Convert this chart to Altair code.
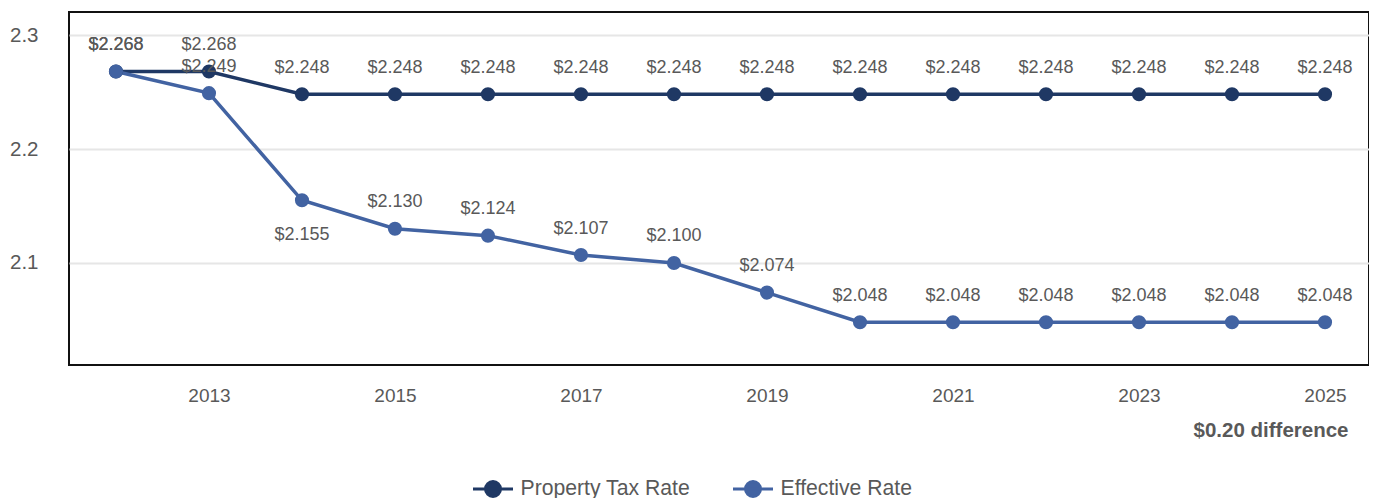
import altair as alt
import pandas as pd

years = list(range(2012, 2026))
property_tax_rate = [2.268, 2.268, 2.248, 2.248, 2.248, 2.248, 2.248, 2.248,
                     2.248, 2.248, 2.248, 2.248, 2.248, 2.248]
effective_rate = [2.268, 2.249, 2.155, 2.130, 2.124, 2.107, 2.100, 2.074,
                  2.048, 2.048, 2.048, 2.048, 2.048, 2.048]
series_names = ["Property Tax Rate", "Effective Rate"]
series_colors = ["#1F3864", "#4263A2"]
x_tick_values = [2013, 2015, 2017, 2019, 2021, 2023, 2025]
y_tick_values = [2.1, 2.2, 2.3]
note_text = "$0.20 difference"

rows = []
for name, vals in zip(series_names, [property_tax_rate, effective_rate]):
    for yr, v in zip(years, vals):
        rows.append({"year": yr, "value": v, "series": name})
df = pd.DataFrame(rows)

FONT = "Liberation Sans"
GRAY = "#595959"

x = alt.X(
    "year:Q",
    scale=alt.Scale(domain=[2011.495, 2025.473], nice=False, zero=False),
    axis=alt.Axis(
        values=x_tick_values, format="d", title=note_text, grid=False,
        ticks=False, domain=False, labelFontSize=19, labelColor=GRAY,
        labelFont=FONT, labelPadding=21,
        titleFont=FONT, titleFontSize=20.5, titleFontWeight="bold",
        titleColor=GRAY, titleX=1279, titleY=71, titleAlign="right",
        titleBaseline="alphabetic",
    ),
)
y = alt.Y(
    "value:Q",
    scale=alt.Scale(domain=[2.0105, 2.3202], nice=False, zero=False),
    axis=alt.Axis(
        values=y_tick_values, format=".1f", title=None, grid=True,
        gridColor="#E6E6E6", gridWidth=2, ticks=False, domain=False,
        labelFontSize=20.5, labelColor=GRAY, labelFont=FONT, labelPadding=31,
    ),
)

legend_path = ("M-1,0L1,0M-0.375,0A0.375,0.375 0 1,0 0.375,0"
               "A0.375,0.375 0 1,0 -0.375,0Z")
color = alt.Color(
    "series:N",
    scale=alt.Scale(domain=series_names, range=series_colors),
    sort=series_names,
    legend=alt.Legend(
        title=None, orient="none", legendX=402.5, legendY=455.5,
        direction="horizontal", symbolType=legend_path, symbolSize=1600,
        symbolStrokeWidth=3, labelFontSize=21.2, labelColor=GRAY,
        labelFont=FONT, labelOffset=6, columnPadding=36, padding=0,
        labelLimit=400, symbolOpacity=1,
    ),
)

base = alt.Chart(df).transform_calculate(
    label="'$' + format(datum.value, '.3f')"
)

lines = base.mark_line(strokeWidth=3.5).encode(x=x, y=y, color=color)
points = base.mark_circle(size=200, opacity=1).encode(x=x, y=y, color=color)

text_style = dict(font=FONT, fontSize=18, color=GRAY, baseline="middle",
                  align="center")
text_prop = base.transform_filter(
    alt.datum.series == series_names[0]
).mark_text(dy=-26.5, **text_style).encode(x=x, y=y, text="label:N")
text_eff_above = base.transform_filter(
    (alt.datum.series == series_names[1]) & (alt.datum.year != 2014)
).mark_text(dy=-26.5, **text_style).encode(x=x, y=y, text="label:N")
text_eff_below = base.transform_filter(
    (alt.datum.series == series_names[1]) & (alt.datum.year == 2014)
).mark_text(dy=35, **text_style).encode(x=x, y=y, text="label:N")

chart = alt.layer(
    lines, points, text_prop, text_eff_above, text_eff_below
).properties(
    width=1300, height=353,
    padding={"left": 61, "top": 4, "right": 0, "bottom": 133},
    autosize="none",
).configure_view(
    stroke="#111111", strokeWidth=2
)

chart.save("out.html", embed_options={"renderer": "svg", "actions": False})
